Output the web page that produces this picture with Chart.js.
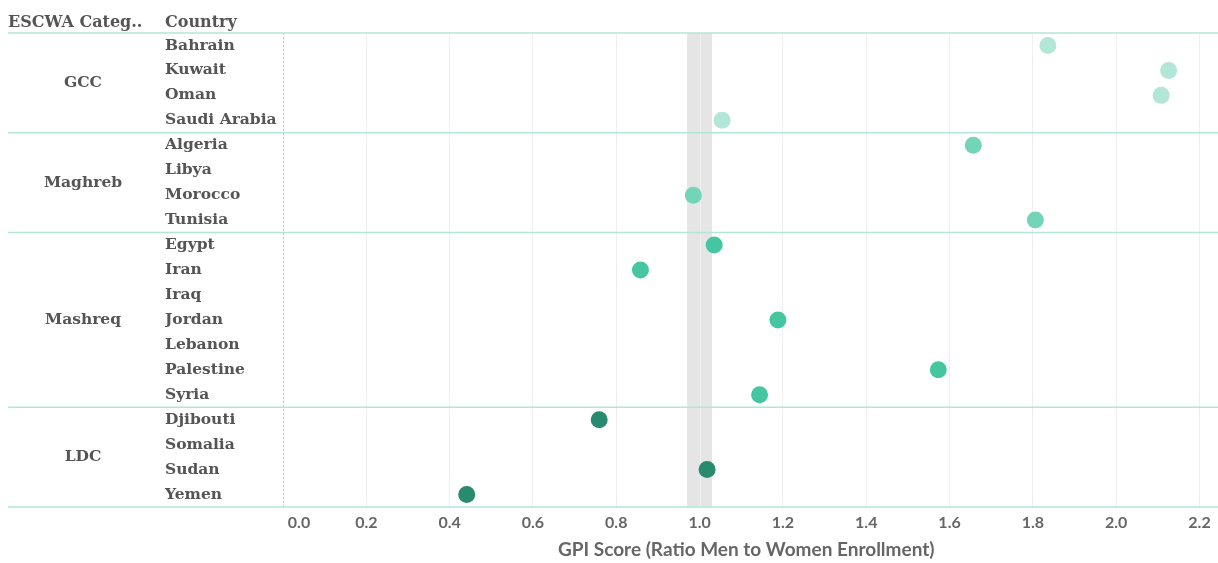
<!DOCTYPE html>
<html lang="en">
<head>
    <meta charset="UTF-8">
    <title>GPI Score by ESCWA Category</title>
    <script src="https://cdn.jsdelivr.net/npm/chart.js"></script>
    <style>
        html, body { margin: 0; padding: 0; background: #fff; }
        .chart-box { position: relative; width: 1218px; height: 563px; }
    </style>
</head>
<body>
    <div class="chart-box">
        <canvas id="gpiChart" width="1218" height="563"></canvas>
    </div>

    <script>
        const groups = ["GCC", "Maghreb", "Mashreq", "LDC"];
        const groupCountries = [
            ["Bahrain", "Kuwait", "Oman", "Saudi Arabia"],
            ["Algeria", "Libya", "Morocco", "Tunisia"],
            ["Egypt", "Iran", "Iraq", "Jordan", "Lebanon", "Palestine", "Syria"],
            ["Djibouti", "Somalia", "Sudan", "Yemen"]
        ];
        // null = no value shown
        const groupScores = [
            [1.836, 2.126, 2.108, 1.054],
            [1.657, null, 0.985, 1.806],
            [1.035, 0.858, null, 1.188, null, 1.573, 1.144],
            [0.759, null, 1.018, 0.441]
        ];
        const groupColors = ["#b2e6d6", "#74d4b7", "#45c6a0", "#288a6e"];
        const xTicks = [0, 0.2, 0.4, 0.6, 0.8, 1.0, 1.2, 1.4, 1.6, 1.8, 2.0, 2.2];
        const parityBand = [0.97, 1.03];

        const countries = groupCountries.flat();

        const datasets = groups.map((g, i) => ({
            label: g,
            data: groupCountries[i]
                .map((c, j) => ({ x: groupScores[i][j], y: c }))
                .filter(p => p.x !== null),
            backgroundColor: groupColors[i],
            borderColor: groupColors[i],
            pointRadius: 8.5,
            pointHoverRadius: 8.5,
            borderWidth: 0
        }));

        const slab = "'DejaVu Serif', serif";
        const textColor = "#555555";
        const lineColor = "#b3e6d8";

        const tablePlugin = {
            id: "table",
            beforeDatasetsDraw(chart) {
                const { ctx, chartArea, scales } = chart;
                const x = scales.x;
                // parity band
                ctx.save();
                ctx.fillStyle = "#e5e5e5";
                const b0 = x.getPixelForValue(parityBand[0]);
                const b1 = x.getPixelForValue(parityBand[1]);
                ctx.fillRect(b0, chartArea.top, b1 - b0, chartArea.bottom - chartArea.top);
                ctx.strokeStyle = "#efefef";
                ctx.lineWidth = 1;
                ctx.beginPath();
                const p1 = Math.round(x.getPixelForValue(1)) + 0.5;
                ctx.moveTo(p1, chartArea.top);
                ctx.lineTo(p1, chartArea.bottom);
                ctx.stroke();
                // zero line
                ctx.strokeStyle = "#c8c8c8";
                ctx.setLineDash([2, 2]);
                const z = Math.round(x.getPixelForValue(0)) + 0.5;
                ctx.beginPath();
                ctx.moveTo(z, chartArea.top);
                ctx.lineTo(z, chartArea.bottom);
                ctx.stroke();
                ctx.restore();
            },
            afterDraw(chart) {
                const { ctx, scales } = chart;
                const y = scales.y;
                const half = (y.getPixelForValue(1) - y.getPixelForValue(0)) / 2;
                ctx.save();
                // header
                ctx.font = "bold 16px " + slab;
                ctx.fillStyle = textColor;
                ctx.textBaseline = "middle";
                ctx.textAlign = "left";
                ctx.fillText("ESCWA Categ..", 8, 23);
                ctx.fillText("Country", 165, 23);
                // group separators and names
                ctx.font = "bold 15.5px " + slab;
                ctx.strokeStyle = lineColor;
                ctx.lineWidth = 1.5;
                let idx = 0;
                const drawLine = (py) => {
                    ctx.beginPath();
                    ctx.moveTo(8, py);
                    ctx.lineTo(chart.width, py);
                    ctx.stroke();
                };
                drawLine(y.getPixelForValue(0) - half);
                groups.forEach((g, i) => {
                    const n = groupCountries[i].length;
                    const top = y.getPixelForValue(idx) - half;
                    const bottom = y.getPixelForValue(idx + n - 1) + half;
                    ctx.textAlign = "center";
                    ctx.fillText(g, 83, (top + bottom) / 2);
                    drawLine(bottom);
                    idx += n;
                });
                ctx.restore();
            }
        };

        const ctx = document.getElementById("gpiChart").getContext("2d");
        new Chart(ctx, {
            type: "scatter",
            data: { datasets },
            options: {
                responsive: false,
                animation: false,
                layout: { padding: { left: 165, top: 33, right: 0, bottom: 0 } },
                plugins: { legend: { display: false }, tooltip: { enabled: false } },
                scales: {
                    x: {
                        type: "linear",
                        min: 0,
                        max: 2.224,
                        afterBuildTicks: axis => { axis.ticks = xTicks.map(v => ({ value: v })); },
                        afterFit: axis => {
                            axis.height = 56;
                            axis.paddingLeft = 0;
                            axis.paddingRight = 0;
                        },
                        grid: { color: "#efefef", drawTicks: false },
                        border: { display: false },
                        ticks: {
                            padding: 6,
                            color: "#666666",
                            font: { family: "Lato", size: 16, weight: "bold" },
                            // the first label sits just right of the zero line
                            callback: v => (v === 0 ? "\u2003\u2003\u2002" : "") + v.toFixed(1)
                        },
                        title: {
                            display: true,
                            text: "GPI Score (Ratio Men to Women Enrollment)",
                            color: "#666666",
                            font: { family: "Lato", size: 19, weight: "bold" },
                            padding: { top: 4, bottom: 2 }
                        }
                    },
                    y: {
                        type: "category",
                        labels: countries,
                        offset: true,
                        afterFit: axis => { axis.width = 118; },
                        grid: { display: false, drawTicks: false },
                        border: { display: false },
                        ticks: {
                            crossAlign: "far",
                            autoSkip: false,
                            color: textColor,
                            font: { family: "DejaVu Serif", size: 15.5, weight: "bold" }
                        }
                    }
                }
            },
            plugins: [tablePlugin]
        });
    </script>
</body>
</html>
